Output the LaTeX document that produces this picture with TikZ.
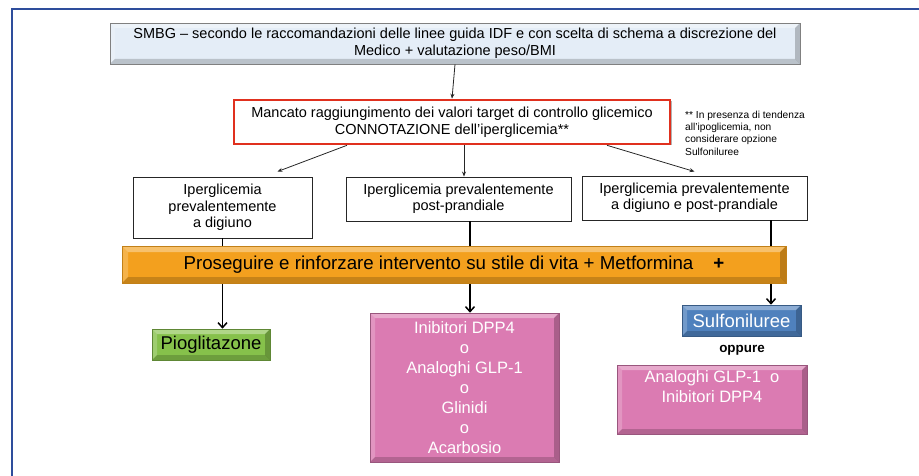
\documentclass[tikz,border=0pt]{standalone}
\usepackage{fontspec}
\setmainfont{Liberation Sans}
\usetikzlibrary{arrows.meta,shadows}
\definecolor{frameblue}{HTML}{2E4D9C}
\definecolor{boxblue}{HTML}{E4EDF7}
\definecolor{alarmred}{HTML}{E0301E}
\definecolor{barorange}{HTML}{F3A01E}
\definecolor{pioggreen}{HTML}{86C14B}
\definecolor{drugpink}{HTML}{DB7BB2}
\definecolor{sulfblue}{HTML}{4F81BD}
\tikzset{
  bevel/.style={path picture={
    \coordinate (nw) at (path picture bounding box.north west);
    \coordinate (ne) at (path picture bounding box.north east);
    \coordinate (sw) at (path picture bounding box.south west);
    \coordinate (se) at (path picture bounding box.south east);
    \fill[white,opacity=.35] (nw) -- (ne) -- ([shift={(-#1,-#1)}]ne) -- ([shift={(#1,-#1)}]nw) -- cycle;
    \fill[white,opacity=.2] (nw) -- (sw) -- ([shift={(#1,#1)}]sw) -- ([shift={(#1,-#1)}]nw) -- cycle;
    \fill[black,opacity=.18] (sw) -- (se) -- ([shift={(-#1,#1)}]se) -- ([shift={(#1,#1)}]sw) -- cycle;
    \fill[black,opacity=.22] (ne) -- (se) -- ([shift={(-#1,#1)}]se) -- ([shift={(-#1,-#1)}]ne) -- cycle;
  }},
  topbox/.style={draw=black!50, line width=.8pt, fill=boxblue, bevel=5pt,
    font=\fontsize{14.5}{17}\selectfont},
  redbox/.style={draw=alarmred, line width=2.6pt, fill=white,
    drop shadow={shadow xshift=1.5pt, shadow yshift=-1.5pt, opacity=.6},
    font=\fontsize{14.5}{17}\selectfont},
  hypobox/.style={draw=black!85, line width=.9pt, fill=white,
    drop shadow={shadow xshift=1pt, shadow yshift=-1pt, opacity=.25},
    font=\fontsize{14.5}{16.5}\selectfont},
  drugbox/.style={fill=#1, draw=#1!70!black, line width=.6pt, bevel=5pt},
  linkto/.style={draw=black!85, line width=.8pt, -{Stealth[length=5pt,width=4pt]}},
  linkdown/.style={draw=black, line width=1.5pt, -{Straight Barb[length=5pt,width=9pt]}}
}
\begin{document}
\begin{tikzpicture}[x=1pt,y=-1pt, every node/.style={align=center, inner sep=0pt}]
\useasboundingbox (0,0) rectangle (919,476);
\draw[frameblue, line width=2pt] (12,476) -- (12,9) -- (919,9); % frame

% top boxes
\node[topbox, minimum width=690pt, minimum height=41pt] (smbg) at (455,43.5)
  {SMBG – secondo le raccomandazioni delle linee guida IDF e con scelta di schema a discrezione del\\Medico + valutazione peso/BMI};
\node[redbox, minimum width=436pt, minimum height=44pt] (mancato) at (452,122)
  {Mancato raggiungimento dei valori target di controllo glicemico\\CONNOTAZIONE dell’iperglicemia**};
\node[anchor=north west, align=left, font=\fontsize{10.2}{12.4}\selectfont] (nota) at (685,110.5)
  {** In presenza di tendenza\\all’ipoglicemia, non\\considerare opzione\\Sulfoniluree};
\draw[linkto] (smbg.south) -- (mancato.north);

% hyperglycaemia types
\node[hypobox, minimum width=179pt, minimum height=61pt] (digiuno) at (222.5,207.5)
  {Iperglicemia\\prevalentemente\\a digiuno};
\node[hypobox, minimum width=225pt, minimum height=44pt] (postp) at (458.5,199)
  {Iperglicemia prevalentemente\\post-prandiale};
\node[hypobox, minimum width=225pt, minimum height=44pt] (entrambe) at (694.5,198)
  {Iperglicemia prevalentemente\\a digiuno e post-prandiale};
\draw[linkto] ([xshift=-105pt]mancato.south) -- ([xshift=55pt,yshift=5pt]digiuno.north);
\draw[linkto] ([xshift=12pt]mancato.south) -- ([xshift=5.5pt]postp.north);
\draw[linkto] ([xshift=155pt]mancato.south) -- ([yshift=4pt]entrambe.north);

% drugs
\node[drugbox=pioggreen, minimum width=118pt, minimum height=31pt, font=\fontsize{18.5}{20}\selectfont] (pio) at (211,344.5) {Pioglitazone};
\node[drugbox=drugpink, minimum width=189pt, minimum height=149pt, text=white, font=\fontsize{16.5}{19.9}\selectfont] (incretine) at (464.5,387.5)
  {Inibitori DPP4\\o\\Analoghi GLP-1\\o\\Glinidi\\o\\Acarbosio};
\node[drugbox=sulfblue, minimum width=119pt, minimum height=31pt, text=white, font=\fontsize{18.5}{20}\selectfont] (sulf) at (741.5,320.5) {Sulfoniluree};
\node[font=\bfseries\fontsize{13.4}{15}\selectfont] (oppure) at (742,350) {oppure};
\node[drugbox=drugpink, minimum width=190pt, minimum height=69pt, text=white, font=\fontsize{16.5}{20}\selectfont] (glp) at (712,399.5)
  {Analoghi GLP-1\ \ o\\Inibitori DPP4\\\strut};

\draw[linkdown] (digiuno.south) -- (digiuno.south |- pio.north);
\draw[linkdown] ([xshift=11.5pt]postp.south) -- ([xshift=11.5pt]postp.south |- incretine.north);
\draw[linkdown] ([xshift=76.5pt]entrambe.south) -- ([xshift=76.5pt]entrambe.south |- sulf.north);

% lifestyle bar
\node[fill=barorange, draw=barorange!80!black, line width=.6pt, bevel=6pt, minimum width=664pt, minimum height=37pt,
  font=\fontsize{18.7}{20}\selectfont] (stile) at (454,264.5)
  {Proseguire e rinforzare intervento su stile di vita + Metformina\hspace{20pt}\textbf{+}};
\end{tikzpicture}
\end{document}
